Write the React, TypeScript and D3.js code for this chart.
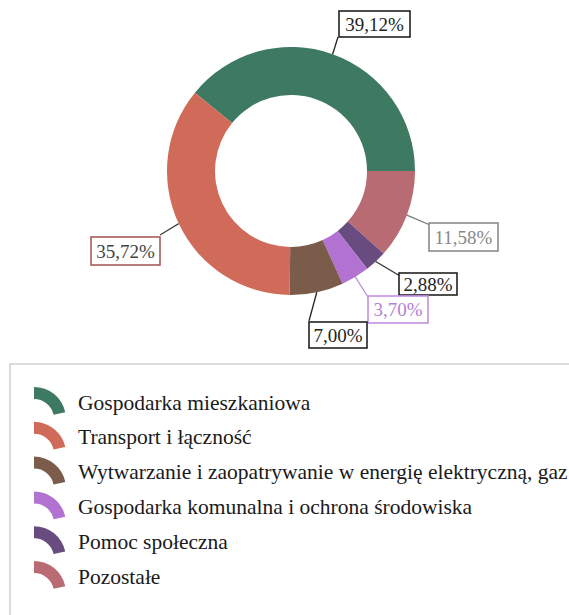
import React from "react";
import * as d3 from "d3";

// Shares of spending by sector (percent)
const categories = [
  "Gospodarka mieszkaniowa",
  "Pozostałe",
  "Pomoc społeczna",
  "Gospodarka komunalna i ochrona środowiska",
  "Wytwarzanie i zaopatrywanie w energię elektryczną, gaz",
  "Transport i łączność",
];
const values = [39.12, 11.58, 2.88, 3.7, 7.0, 35.72];
const valueLabels = ["39,12%", "11,58%", "2,88%", "3,70%", "7,00%", "35,72%"];
const colors = ["#3e7a61", "#b86b73", "#684b7f", "#b172d2", "#7b5b49", "#d06b59"];

// Legend order
const legendOrder = [
  "Gospodarka mieszkaniowa",
  "Transport i łączność",
  "Wytwarzanie i zaopatrywanie w energię elektryczną, gaz",
  "Gospodarka komunalna i ochrona środowiska",
  "Pomoc społeczna",
  "Pozostałe",
];

// Callout boxes: box rect, leader end point, styling
const callouts = [
  { x: 339, y: 11, w: 71, h: 26, ex: 338, ey: 37, stroke: "#222", text: "#222", line: "#222" },
  { x: 429, y: 223, w: 69, h: 28, ex: 430, ey: 225, stroke: "#8a8a8a", text: "#888", line: "#777" },
  { x: 399, y: 273, w: 58, h: 22, ex: 400, ey: 276, stroke: "#222", text: "#222", line: "#333" },
  { x: 368, y: 296, w: 60, h: 27, ex: 368, ey: 297, stroke: "#c290e2", text: "#b27fd6", line: "#b88bd8" },
  { x: 309, y: 322, w: 58, h: 26, ex: 309, ey: 321, stroke: "#222", text: "#222", line: "#222" },
  { x: 91, y: 237, w: 69, h: 28, ex: 160, ey: 235, stroke: "#a95a5a", text: "#444", line: "#444" },
];

const W = 569;
const H = 615;
const cx = 291;
const cy = 171;
const rOuter = 124;
const rInner = 76;
const startAngle = (-50.8 * Math.PI) / 180;
const serif = '"Liberation Serif", "Times New Roman", serif';

export default function App() {
  const pie = d3
    .pie<number>()
    .sort(null)
    .startAngle(startAngle)
    .endAngle(startAngle + 2 * Math.PI)
    .value((d) => d);
  const arcs = pie(values);
  const arcGen = d3.arc<d3.PieArcDatum<number>>().innerRadius(rInner).outerRadius(rOuter);

  const iconArc = d3
    .arc()
    .innerRadius(20)
    .outerRadius(32)
    .startAngle(0)
    .endAngle(1.36);

  const rowY = d3.scalePoint<string>().domain(legendOrder).range([402, 576]);

  return (
    <svg
      width={W}
      height={H}
      style={{ position: "absolute", left: 0, top: 0, background: "#fff", fontFamily: serif }}
    >
      <rect x={0} y={0} width={W} height={H} fill="#fff" />
      <g transform={`translate(${cx},${cy})`}>
        {arcs.map((a, i) => (
          <path key={i} d={arcGen(a) || ""} fill={colors[i]} />
        ))}
      </g>
      {arcs.map((a, i) => {
        const mid = (a.startAngle + a.endAngle) / 2;
        const sx = cx + rOuter * Math.sin(mid);
        const sy = cy - rOuter * Math.cos(mid);
        const c = callouts[i];
        return (
          <g key={i}>
            <line x1={sx} y1={sy} x2={c.ex} y2={c.ey} stroke={c.line} strokeWidth={1.3} />
            <rect x={c.x} y={c.y} width={c.w} height={c.h} fill="#fff" stroke={c.stroke} strokeWidth={1.6} />
            <text
              x={c.x + c.w / 2}
              y={c.y + c.h / 2}
              dy="0.36em"
              textAnchor="middle"
              fontSize={19}
              fill={c.text}
              style={{ fontFamily: serif }}
            >
              {valueLabels[i]}
            </text>
          </g>
        );
      })}

      {/* legend frame */}
      <rect x={10} y={364} width={600} height={300} fill="none" stroke="#cfcfcf" strokeWidth={1.5} />
      {legendOrder.map((name) => {
        const i = categories.indexOf(name);
        const y = rowY(name) as number;
        return (
          <g key={name}>
            <path d={iconArc({} as any) || ""} transform={`translate(34,${y + 17})`} fill={colors[i]} />
            <text x={78} y={y} dy="0.35em" fontSize={21.5} fill="#1a1a1a" style={{ fontFamily: serif }}>
              {name}
            </text>
          </g>
        );
      })}
    </svg>
  );
}
